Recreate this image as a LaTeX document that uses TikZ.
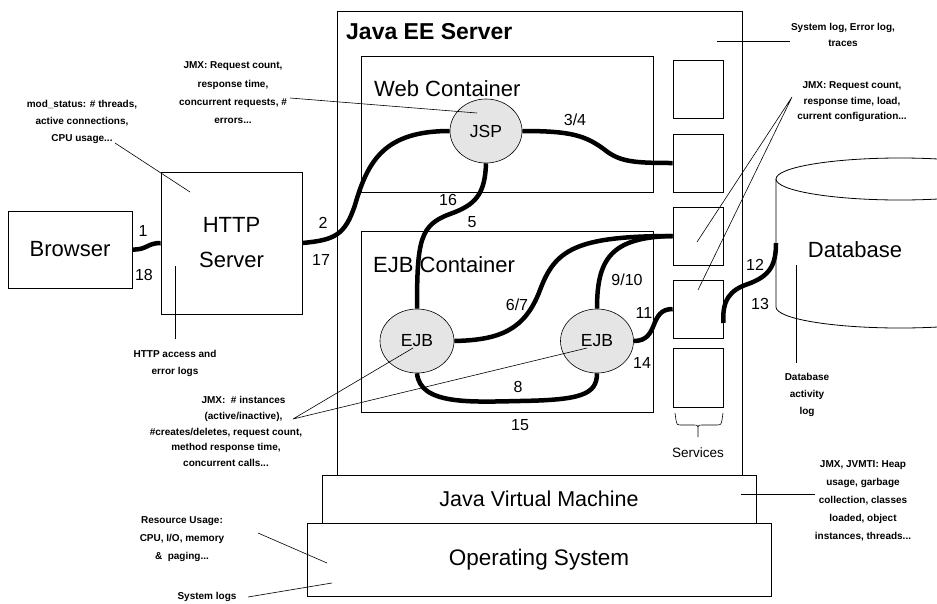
\documentclass[tikz,border=0pt]{standalone}
\usepackage{fontspec}
\setmainfont{Liberation Sans}
\usetikzlibrary{shapes.geometric}
\begin{document}
\begin{tikzpicture}[x=1pt,y=-1pt,
  box/.style={draw, line width=0.8pt, rectangle, inner sep=0pt},
  big/.style={font=\fontsize{22}{35}\selectfont},
  ann/.style={font=\fontsize{10}{17}\selectfont\bfseries, align=center, inner sep=0pt},
  num/.style={font=\fontsize{16}{16}\selectfont, inner sep=0pt},
  conn/.style={line width=4.5pt},
  pointer/.style={line width=0.6pt},
  comp/.style={ellipse, draw, fill=gray!20, line width=0.6pt, inner sep=0pt,
               minimum height=64pt, font=\fontsize{17.5}{17.5}\selectfont},
  svc/.style={box, minimum width=50pt, minimum height=58pt}]
\fill[white] (0,0) rectangle (937,603);
\useasboundingbox (0,0) rectangle (937,603);

% database cylinder
\begin{scope}
\clip (0,0) rectangle (937,603);
\draw[line width=0.8pt, fill=white] (776,179) -- (776,307) arc[start angle=180, end angle=0, x radius=124, y radius=21] -- (1024,179);
\draw[line width=0.8pt] (900,179) ellipse [x radius=124, y radius=21];
\end{scope}
\coordinate (dbL) at (776,243);
\node[big, inner sep=0pt] (dbtext) at (855,250) {Database};

% main boxes
\node[box, minimum width=405pt, minimum height=464pt] (ee) at (539.5,243) {};
\node[anchor=west, inner sep=0pt, font=\fontsize{23}{23}\selectfont\bfseries] (eetitle) at (346,32) {Java EE Server};
\node[box, minimum width=292pt, minimum height=136pt] (web) at (507,124) {};
\node[anchor=west, inner sep=0pt, big] (webtitle) at (374,89) {Web Container};
\node[box, minimum width=292pt, minimum height=181pt] (ejbc) at (507,321.5) {};
\node[anchor=west, inner sep=0pt, big] (ejbtitle) at (373,265) {EJB Container};
\node[box, fill=white, minimum width=434pt, minimum height=48pt, font=\fontsize{21.5}{21.5}\selectfont] (jvm) at (539,499) {Java Virtual Machine};
\node[box, fill=white, minimum width=464pt, minimum height=73pt, font=\fontsize{22.5}{22.5}\selectfont] (os) at (539,559.5) {Operating System};

\node[box, minimum width=124pt, minimum height=77pt, big] (browser) at (70,249.5) {Browser};
\node[box, minimum width=141pt, minimum height=142pt, big, align=center] (http) at (231.5,243) {HTTP\\Server};

% services
\node[svc] (s1) at (698,89) {};
\node[svc] (s2) at (698,163) {};
\node[svc] (s3) at (698,236) {};
\node[svc] (s4) at (698,309) {};
\node[svc, minimum height=59pt] (s5) at (698,377.5) {};
\draw[line width=0.6pt] (675,413) -- (676,420) .. controls (677,425) .. (682,425) -- (693,425) .. controls (698,425) .. (698,430) -- (698,437)
  (698,430) .. controls (698,425) .. (703,425) -- (715,425) .. controls (721,425) .. (722,420) -- (723,413);
\node[font=\fontsize{13.5}{13.5}\selectfont, inner sep=0pt] (svclabel) at (698,453) {Services};

% components
\node[comp, minimum width=72pt] (jsp) at (486,131) {JSP};
\node[comp, minimum width=74pt] (ejb1) at (417,341) {EJB};
\node[comp, minimum width=73pt] (ejb2) at (597,341) {EJB};

% connectors
\draw[conn] (browser.east) .. controls (147,250) and (147,243) .. (http.west);
\draw[conn] (http.east) .. controls (335,240) and (345,235) .. (355,205) .. controls (368,160) and (385,131) .. (jsp.west);
\draw[conn] (jsp.south) .. controls (485,195) and (475,205) .. (450,214) .. controls (420,225) and (417,240) .. (ejb1.north);
\draw[conn] (jsp.east) .. controls (570,131) and (585,135) .. (605,150) .. controls (620,162) and (635,163) .. (s2.west);
\draw[conn] (ejb1.east) .. controls (500,340) and (525,330) .. (540,290) .. controls (555,250) and (575,236) .. (s3.west);
\draw[conn] (ejb2.north) .. controls (597,260) and (610,237) .. (s3.west);
\draw[conn] (ejb2.east) .. controls (660,341) and (648,309) .. (s4.west);
\draw[conn] (ejb1.south) .. controls (420,405) and (470,402) .. (520,401) .. controls (580,400) and (597,395) .. (ejb2.south);
\draw[conn] ([yshift=-14pt]s4.east) .. controls (722,300) and (730,290) .. (748,284) .. controls (770,276) and (776,265) .. (dbL);

% numbers
\node[num] (n1) at (143,231) {1};
\node[num] (n18) at (144,275) {18};
\node[num] (n2) at (323,223) {2};
\node[num] (n17) at (321,260) {17};
\node[num] (n34) at (575,120) {3/4};
\node[num] (n16) at (448,200) {16};
\node[num] (n5) at (472,222) {5};
\node[num] (n67) at (517,305) {6/7};
\node[num] (n910) at (627,280) {9/10};
\node[num] (n11) at (644,313) {11};
\node[num] (n14) at (642,363) {14};
\node[num] (n8) at (518,387) {8};
\node[num] (n15) at (520,425) {15};
\node[num] (n12) at (755,265) {12};
\node[num] (n13) at (760,304) {13};

% annotations
\node[ann] (a1) at (82,122) {mod\_status: \# threads,\\active connections,\\CPU usage...};
\coordinate (a1s) at (115,143); \coordinate (a1e) at (190,192);
\draw[pointer] (a1s) -- (a1e);

\node[ann, font=\fontsize{10}{18.3}\selectfont\bfseries] (a2) at (233,93) {JMX: Request count,\\response time,\\concurrent requests, \#\\errors...};
\coordinate (a2s) at (290,98); \coordinate (a2e) at (477,113);
\draw[pointer] (a2s) -- (a2e);

\node[ann, font=\fontsize{10}{16}\selectfont\bfseries] (a3) at (843,35) {System log, Error log,\\traces};
\coordinate (a3s) at (717,41); \coordinate (a3e) at (790,41);
\draw[pointer] (a3s) -- (a3e);

\node[ann, font=\fontsize{10}{15.5}\selectfont\bfseries] (a4) at (852,102) {JMX: Request count,\\response time, load,\\current configuration...};
\coordinate (a4s) at (792,97); \coordinate (a4e1) at (697,242); \coordinate (a4e2) at (698,290);
\draw[pointer] (a4s) -- (a4e1) (a4s) -- (a4e2);

\node[ann] (a5) at (175,363.5) {HTTP access and\\error logs};
\coordinate (a5s) at (175,339); \coordinate (a5e) at (175,266);
\draw[pointer] (a5s) -- (a5e);

\node[ann, font=\fontsize{10}{15.8}\selectfont\bfseries] (a6) at (226,431.5) {\hspace*{3.5em}JMX:\ \ \# instances\\\hspace*{3.5em}(active/inactive),\\\#creates/deletes, request count,\\method response time,\\concurrent calls...};
\coordinate (a6s) at (293,419); \coordinate (a6e1) at (413,348); \coordinate (a6e2) at (587,348);
\draw[pointer] (a6s) -- (a6e1) (a6s) -- (a6e2);

\node[ann, font=\fontsize{10}{18}\selectfont\bfseries] (a7) at (182,539) {Resource Usage:\\CPU, I/O, memory\\\&\ \ paging...};
\coordinate (a7s) at (258,533); \coordinate (a7e) at (327,563);
\draw[pointer] (a7s) -- (a7e);

\node[ann] (a8) at (207,597) {System logs};
\coordinate (a8s) at (248,597); \coordinate (a8e) at (332,583);
\draw[pointer] (a8s) -- (a8e);

\node[ann, font=\fontsize{10}{18}\selectfont\bfseries] (a9) at (863,501) {JMX, JVMTI: Heap\\usage, garbage\\collection, classes\\loaded, object\\instances, threads...};
\coordinate (a9s) at (741,494); \coordinate (a9e) at (815,494);
\draw[pointer] (a9s) -- (a9e);

\node[ann] (a10) at (807,395) {Database\\activity\\log};
\coordinate (a10s) at (796,265); \coordinate (a10e) at (796,363);
\draw[pointer] (a10s) -- (a10e);
\end{tikzpicture}
\end{document}
